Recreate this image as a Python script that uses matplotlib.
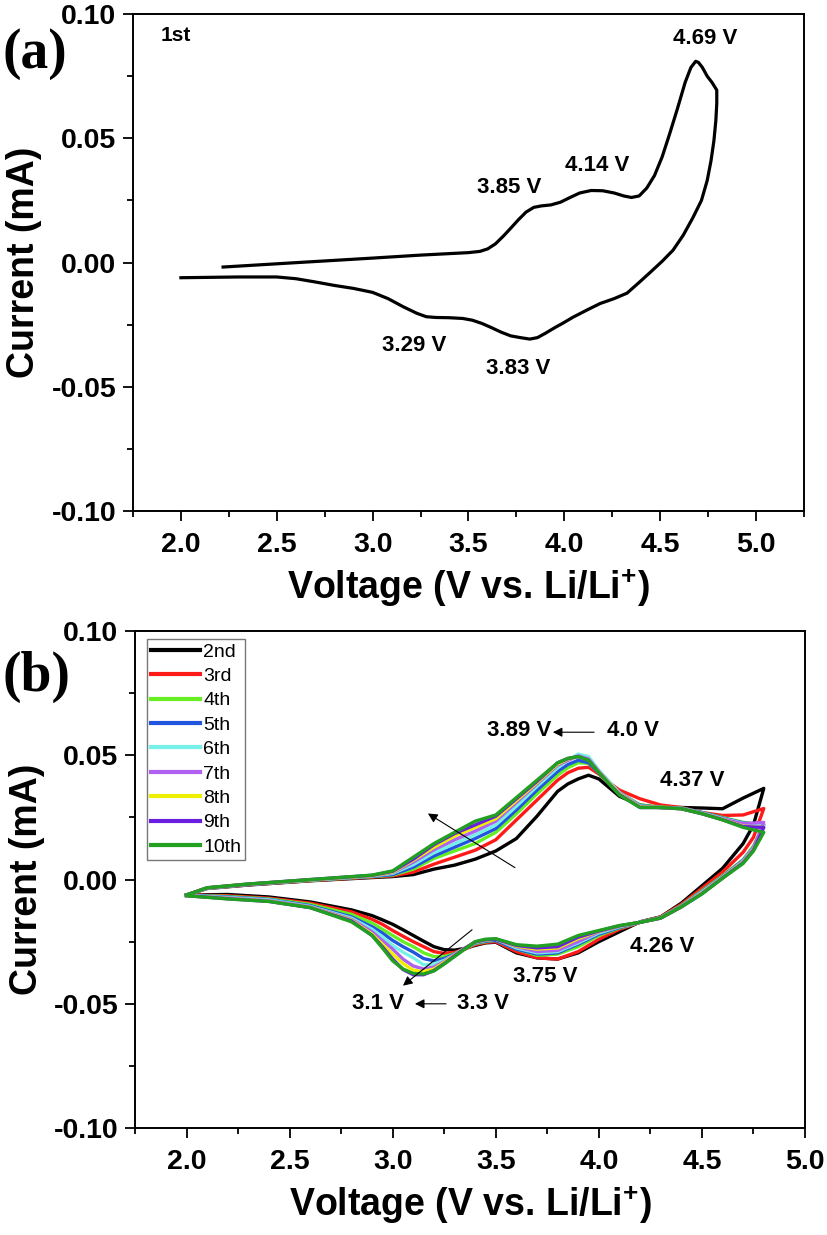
import matplotlib
matplotlib.use("Agg")
import matplotlib.pyplot as plt
from matplotlib.ticker import MultipleLocator, FormatStrFormatter

plt.rcParams['font.family'] = ['Liberation Sans', 'DejaVu Sans']
plt.rcParams['axes.unicode_minus'] = False
plt.rcParams['mathtext.fontset'] = 'custom'
plt.rcParams['mathtext.rm'] = 'Liberation Sans:bold'
plt.rcParams['mathtext.bf'] = 'Liberation Sans:bold'
plt.rcParams['mathtext.default'] = 'bf'

# ---- panel (a): first cycle ----
v_first = [2.22, 2.5, 3.0, 3.25, 3.5, 3.56, 3.6, 3.64, 3.68, 3.72, 3.76, 3.8, 3.84,
           3.88, 3.93, 3.98, 4.03, 4.08, 4.14, 4.2, 4.26, 4.31, 4.35, 4.39, 4.43,
           4.47, 4.51, 4.55, 4.59, 4.63, 4.66, 4.685, 4.70, 4.72, 4.745, 4.77, 4.795,
           4.795, 4.79, 4.78, 4.765, 4.745, 4.715, 4.67, 4.62, 4.567, 4.51, 4.447,
           4.39, 4.327, 4.26, 4.186, 4.118, 4.045, 3.99, 3.95, 3.90, 3.86, 3.82,
           3.77, 3.72, 3.67, 3.62, 3.57, 3.52, 3.47, 3.40, 3.33, 3.28, 3.23, 3.16,
           3.08, 3.0, 2.9, 2.8, 2.7, 2.6, 2.5, 2.3, 2.1, 2.0]
i_first = [-0.0018, -0.0005, 0.0018, 0.003, 0.004, 0.0045, 0.0055, 0.0075, 0.0105,
           0.0138, 0.0172, 0.0203, 0.0222, 0.0228, 0.0232, 0.0243, 0.0262, 0.028,
           0.029, 0.0289, 0.028, 0.0268, 0.0262, 0.0268, 0.030, 0.035, 0.0425, 0.052,
           0.062, 0.0725, 0.0785, 0.081, 0.0805, 0.0785, 0.075, 0.0725, 0.0694,
           0.064, 0.057, 0.049, 0.041, 0.033, 0.025, 0.018, 0.011, 0.005, 0.0005,
           -0.004, -0.008, -0.0123, -0.0145, -0.0165, -0.0191, -0.022, -0.0245,
           -0.0262, -0.0285, -0.0302, -0.0308, -0.0302, -0.0295, -0.028, -0.0262,
           -0.0245, -0.0232, -0.0225, -0.0222, -0.0221, -0.0218, -0.0204, -0.0178,
           -0.0145, -0.012, -0.0104, -0.0092, -0.0078, -0.0065, -0.0058, -0.0058,
           -0.006, -0.0061]

# ---- panel (b): cycles 2-10 ----
cycles = ['2nd', '3rd', '4th', '5th', '6th', '7th', '8th', '9th', '10th']
colors = ['#000000', '#ff1a1a', '#66ee22', '#2255dd', '#77f0e8',
          '#b060f0', '#eef000', '#6a1ee0', '#22a022']

# anodic (upper) branch, 2.0 -> 4.8 V
v_anodic = [2.0, 2.1, 2.3, 2.6, 2.9, 3.0, 3.1, 3.2, 3.3, 3.4, 3.5, 3.6, 3.7, 3.8,
            3.85, 3.9, 3.95, 4.0, 4.05, 4.1, 4.2, 4.3, 4.4, 4.5, 4.6, 4.7, 4.8]
i_anodic = [
    [-0.0062, -0.0036, -0.0022, -0.0005, 0.0008, 0.0012, 0.002, 0.0042, 0.0058, 0.0082,
     0.0115, 0.0165, 0.0255, 0.0355, 0.0385, 0.0405, 0.042, 0.0405, 0.037, 0.0335,
     0.030, 0.029, 0.029, 0.0288, 0.0285, 0.0328, 0.0367],
    [-0.0062, -0.0035, -0.0021, -0.0004, 0.001, 0.0015, 0.003, 0.0062, 0.009, 0.0118,
     0.016, 0.024, 0.032, 0.040, 0.043, 0.0448, 0.0452, 0.0425, 0.039, 0.036,
     0.0325, 0.030, 0.029, 0.027, 0.0258, 0.026, 0.0286],
    [-0.0062, -0.0035, -0.002, -0.0003, 0.0012, 0.0018, 0.0042, 0.0085, 0.0115, 0.0145,
     0.019, 0.0265, 0.0345, 0.042, 0.045, 0.047, 0.0468, 0.043, 0.039, 0.035,
     0.030, 0.0292, 0.0288, 0.027, 0.025, 0.023, 0.022],
    [-0.0062, -0.0034, -0.002, -0.0002, 0.0013, 0.002, 0.005, 0.0095, 0.013, 0.0165,
     0.0205, 0.028, 0.036, 0.0435, 0.0463, 0.048, 0.047, 0.043, 0.039, 0.035,
     0.0298, 0.029, 0.0287, 0.027, 0.0248, 0.0228, 0.022],
    [-0.0062, -0.0034, -0.0019, -0.0002, 0.0014, 0.0025, 0.006, 0.0108, 0.0145, 0.018,
     0.022, 0.0295, 0.0375, 0.045, 0.048, 0.0505, 0.0495, 0.044, 0.0395, 0.035,
     0.0296, 0.029, 0.0286, 0.0268, 0.0246, 0.0226, 0.022],
    [-0.0062, -0.0034, -0.0019, -0.0001, 0.0015, 0.0028, 0.007, 0.012, 0.016, 0.0195,
     0.0235, 0.031, 0.0385, 0.046, 0.048, 0.0498, 0.0485, 0.0435, 0.039, 0.0348,
     0.0294, 0.029, 0.0285, 0.0267, 0.0244, 0.0225, 0.023],
    [-0.0062, -0.0033, -0.0018, -0.0001, 0.0016, 0.003, 0.0078, 0.013, 0.0175, 0.021,
     0.0245, 0.0318, 0.039, 0.0465, 0.0485, 0.0495, 0.048, 0.0432, 0.0388, 0.0345,
     0.0292, 0.029, 0.0285, 0.0266, 0.0242, 0.0215, 0.021],
    [-0.0062, -0.0033, -0.0018, 0.0, 0.0017, 0.0033, 0.0082, 0.014, 0.0185, 0.022,
     0.0255, 0.0325, 0.0395, 0.047, 0.0487, 0.0495, 0.048, 0.043, 0.0385, 0.0342,
     0.029, 0.029, 0.0285, 0.0265, 0.0241, 0.0213, 0.021],
    [-0.0062, -0.0033, -0.0018, 0.0, 0.0018, 0.0035, 0.009, 0.0145, 0.019, 0.0235,
     0.026, 0.033, 0.040, 0.047, 0.0488, 0.0495, 0.048, 0.043, 0.0385, 0.034,
     0.029, 0.029, 0.0285, 0.0265, 0.024, 0.021, 0.019],
]

# cathodic (lower) branch, 4.8 -> 2.0 V
v_cathodic = [4.8, 4.75, 4.7, 4.6, 4.5, 4.4, 4.3, 4.2, 4.1, 4.0, 3.9, 3.8, 3.7, 3.6,
              3.5, 3.45, 3.4, 3.35, 3.3, 3.25, 3.2, 3.15, 3.1, 3.05, 3.0, 2.95, 2.9,
              2.8, 2.6, 2.4, 2.2, 2.0]
i_cathodic = [
    [0.0367, 0.022, 0.0145, 0.0045, -0.0025, -0.0095, -0.015, -0.017, -0.021, -0.025,
     -0.0295, -0.032, -0.0315, -0.0295, -0.0252, -0.0255, -0.0265, -0.0277, -0.0284,
     -0.0282, -0.027, -0.0248, -0.0225, -0.0202, -0.018, -0.0162, -0.0145,
     -0.0122, -0.009, -0.007, -0.006, -0.0062],
    [0.0286, 0.017, 0.011, 0.003, -0.0035, -0.010, -0.015, -0.0172, -0.020, -0.024,
     -0.029, -0.032, -0.0315, -0.029, -0.025, -0.0253, -0.0262, -0.028, -0.0293,
     -0.0297, -0.029, -0.027, -0.025, -0.0228, -0.0205, -0.018, -0.016,
     -0.013, -0.0095, -0.0075, -0.0065, -0.0062],
    [0.022, 0.0135, 0.008, 0.0015, -0.0045, -0.0105, -0.0152, -0.0172, -0.0195, -0.0225,
     -0.027, -0.030, -0.0305, -0.028, -0.0245, -0.025, -0.0258, -0.0278, -0.0298,
     -0.031, -0.031, -0.0295, -0.027, -0.025, -0.0225, -0.020, -0.0175,
     -0.014, -0.010, -0.0078, -0.0068, -0.0062],
    [0.022, 0.013, 0.0078, 0.0012, -0.0048, -0.0107, -0.0153, -0.0172, -0.0193, -0.022,
     -0.026, -0.0295, -0.030, -0.028, -0.0245, -0.0248, -0.0256, -0.0277, -0.030,
     -0.0318, -0.0327, -0.0318, -0.0292, -0.027, -0.0245, -0.0215, -0.019,
     -0.015, -0.0105, -0.008, -0.007, -0.0063],
    [0.022, 0.0128, 0.0075, 0.001, -0.005, -0.0108, -0.0154, -0.0172, -0.019, -0.0215,
     -0.0255, -0.029, -0.0295, -0.0275, -0.024, -0.0245, -0.0254, -0.0276, -0.0302,
     -0.0325, -0.034, -0.0343, -0.0315, -0.0292, -0.0265, -0.023, -0.020,
     -0.0155, -0.0108, -0.0082, -0.0072, -0.0064],
    [0.023, 0.0125, 0.0072, 0.0008, -0.0053, -0.0109, -0.0155, -0.0172, -0.0188, -0.021,
     -0.025, -0.0285, -0.029, -0.027, -0.024, -0.0244, -0.0253, -0.0276, -0.0303,
     -0.033, -0.0352, -0.036, -0.0348, -0.032, -0.028, -0.0245, -0.021,
     -0.016, -0.011, -0.0085, -0.0074, -0.0064],
    [0.021, 0.012, 0.007, 0.0007, -0.0055, -0.011, -0.0155, -0.0172, -0.0187, -0.0208,
     -0.0238, -0.0275, -0.028, -0.0268, -0.024, -0.0243, -0.0252, -0.0276, -0.0305,
     -0.0333, -0.036, -0.037, -0.0365, -0.0338, -0.030, -0.026, -0.022,
     -0.0163, -0.0112, -0.0087, -0.0076, -0.0065],
    [0.021, 0.0118, 0.0068, 0.0006, -0.0057, -0.011, -0.0155, -0.0172, -0.0186, -0.0207,
     -0.0232, -0.027, -0.0275, -0.0265, -0.024, -0.0242, -0.0251, -0.0277, -0.0307,
     -0.0338, -0.0366, -0.0383, -0.0383, -0.0362, -0.032, -0.027, -0.0225,
     -0.0166, -0.0113, -0.0088, -0.0077, -0.0065],
    [0.019, 0.0115, 0.0065, 0.0005, -0.0058, -0.011, -0.0155, -0.0172, -0.0185, -0.0205,
     -0.0225, -0.026, -0.0268, -0.0262, -0.0238, -0.024, -0.025, -0.028, -0.031,
     -0.034, -0.0368, -0.038, -0.0378, -0.036, -0.0327, -0.0275, -0.0225,
     -0.017, -0.0113, -0.0088, -0.0078, -0.0065],
]

peak_labels_a = [('3.85 V', 3.71, 0.0304), ('4.14 V', 4.17, 0.0392),
                 ('4.69 V', 4.734, 0.0901), ('3.29 V', 3.218, -0.0334),
                 ('3.83 V', 3.761, -0.0427)]
peak_labels_b = [('3.89 V', 3.615, 0.060), ('4.0 V', 4.168, 0.060),
                 ('4.37 V', 4.452, 0.0399), ('4.26 V', 4.309, -0.027),
                 ('3.75 V', 3.741, -0.0391), ('3.1 V', 2.929, -0.050),
                 ('3.3 V', 3.44, -0.050)]


def style_axes(ax, xmax):
    ax.set_xlim(1.75, xmax)
    ax.set_ylim(-0.10, 0.10)
    ax.xaxis.set_major_locator(MultipleLocator(0.5))
    ax.xaxis.set_minor_locator(MultipleLocator(0.25))
    ax.yaxis.set_major_locator(MultipleLocator(0.05))
    ax.yaxis.set_minor_locator(MultipleLocator(0.025))
    ax.xaxis.set_major_formatter(FormatStrFormatter('%.1f'))
    ax.yaxis.set_major_formatter(FormatStrFormatter('%.2f'))
    ax.tick_params(which='both', direction='out', top=False, right=False, width=1.3)
    ax.tick_params(which='major', length=7, labelsize=20.5, pad=5)
    ax.tick_params(which='minor', length=4)
    ax.tick_params(axis='x', which='major', pad=8)
    for lab in ax.get_xticklabels() + ax.get_yticklabels():
        lab.set_fontweight('bold')
    for sp in ax.spines.values():
        sp.set_linewidth(1.4)
    ax.set_xlabel('Voltage (V vs. Li/Li$^{+}$)', fontsize=27, fontweight='bold')
    ax.set_ylabel('Current (mA)', fontsize=27, fontweight='bold')
    ax.xaxis.set_label_coords(0.5, -0.11)
    ax.yaxis.set_label_coords(-0.135, 0.5)


fig = plt.figure(figsize=(8.27, 12.35), dpi=100)
ax1 = fig.add_axes([0.1608, 0.5862, 0.8114, 0.4024])
ax2 = fig.add_axes([0.1632, 0.0866, 0.8102, 0.4024])

# (a)
ax1.plot(v_first, i_first, color='black', lw=2.3, solid_joinstyle='round')
style_axes(ax1, 5.25)
ax1.text(1.896, 0.0913, '1st', fontsize=15, fontweight='bold', va='center', ha='left')
for txt, x, y in peak_labels_a:
    ax1.text(x, y, txt, fontsize=16, fontweight='bold', ha='center', va='center')

# (b)
for k in range(len(cycles)):
    xs = v_anodic + v_cathodic[1:]
    ys = i_anodic[k] + i_cathodic[k][1:]
    ax2.plot(xs, ys, color=colors[k], lw=2.4, label=cycles[k], solid_joinstyle='round')
style_axes(ax2, 5.0)
for txt, x, y in peak_labels_b:
    ax2.text(x, y, txt, fontsize=16, fontweight='bold', ha='center', va='center')

arrow = dict(arrowstyle='-|>', color='black', lw=0.8, mutation_scale=14,
             shrinkA=0, shrinkB=0)
ax2.annotate('', xy=(3.171, 0.0266), xytext=(3.593, 0.0048), arrowprops=arrow)
ax2.annotate('', xy=(3.05, -0.0427), xytext=(3.385, -0.0202), arrowprops=arrow)
ax2.annotate('', xy=(3.108, -0.050), xytext=(3.259, -0.050), arrowprops=arrow)
ax2.annotate('', xy=(3.777, 0.0593), xytext=(3.977, 0.0593), arrowprops=arrow)

leg = ax2.legend(loc='upper left', bbox_to_anchor=(0.018, 0.984), borderaxespad=0,
                 fontsize=14, handlelength=2.5, handletextpad=0.2,
                 labelspacing=0.35, borderpad=0.2, fancybox=False, framealpha=1)
leg.get_frame().set_edgecolor('#777777')
leg.get_frame().set_linewidth(1.0)
for line in leg.get_lines():
    line.set_linewidth(3.0)

fig.text(0.003, 1 - 54 / 1235, '(a)', fontsize=40, fontweight='bold',
         family='Liberation Serif', va='center', ha='left')
fig.text(0.003, 1 - 677 / 1235, '(b)', fontsize=40, fontweight='bold',
         family='Liberation Serif', va='center', ha='left')

fig.savefig('out.png', dpi=100)
